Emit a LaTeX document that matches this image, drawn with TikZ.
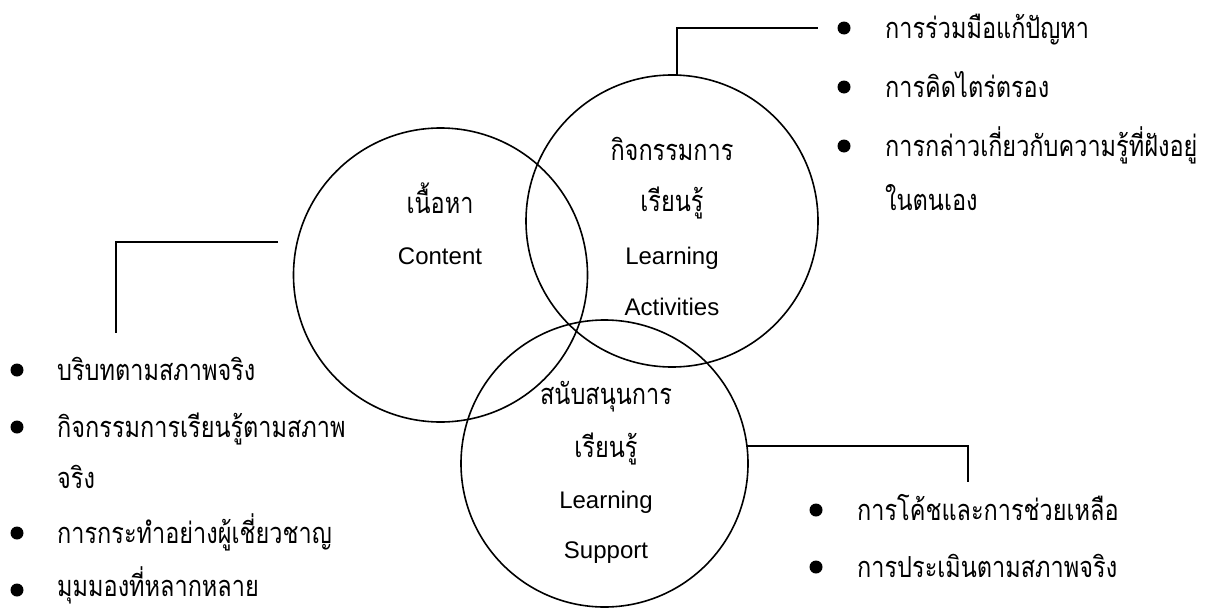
\documentclass[tikz,border=0pt]{standalone}
\usepackage{fontspec}
\newfontfamily\thaifont[Script=Thai,FakeStretch=0.81]{Loma}
\newfontfamily\latinfont{Liberation Sans}
\begin{document}
\begin{tikzpicture}[x=1pt,y=-1pt,
  ring/.style={draw,circle,line width=1.6pt,inner sep=0pt,outer sep=0pt},
  link/.style={line width=1.8pt},
  dot/.style={circle,fill,inner sep=0pt,minimum size=13pt},
  th/.style={font=\thaifont\fontsize{29}{32}\selectfont,inner sep=0pt},
  en/.style={font=\latinfont\fontsize{24}{28}\selectfont,inner sep=0pt},
  item/.style={th,anchor=base west}]
\useasboundingbox (0,0) rectangle (1205,608);

% three overlapping rings
\node[ring,minimum size=294pt] (content) at (440.5,275) {};
\node[ring,minimum size=292pt] (activity) at (672,221) {};
\node[ring,minimum size=287pt] (support) at (604.5,463.5) {};

% ring captions
\node[th,anchor=base] (c1) at (440,213) {เนื้อหา};
\node[en,anchor=base] (c2) at (440,264) {Content};

\node[th,anchor=base] (a1) at (672,160) {กิจกรรมการ};
\node[th,anchor=base] (a2) at (672,211) {เรียนรู้};
\node[en,anchor=base] (a3) at (672,264) {Learning};
\node[en,anchor=base] (a4) at (672,315) {Activities};

\node[th,anchor=base] (s1) at (606,404) {สนับสนุนการ};
\node[th,anchor=base] (s2) at (606,457) {เรียนรู้};
\node[en,anchor=base] (s3) at (606,508) {Learning};
\node[en,anchor=base] (s4) at (606,558) {Support};

% connectors
\coordinate (trEnd) at (818,28.3);
\draw[link] (activity.88.4) |- (trEnd);
\coordinate (lStart) at (278,242);
\coordinate (lEnd) at (116,333);
\draw[link] (lStart) -| (lEnd);
\coordinate (brEnd) at (968,482);
\draw[link] (support.7.8) -| (brEnd);

% list beside the activity ring
\node[dot] (tb1) at (844,28) {};
\node[dot] (tb2) at (844,87) {};
\node[dot] (tb3) at (844,146) {};
\node[item] (t1) at (885,38) {การร่วมมือแก้ปัญหา};
\node[item] (t2) at (885,97) {การคิดไตร่ตรอง};
\node[item] (t3) at (885,156) {การกล่าวเกี่ยวกับความรู้ที่ฝังอยู่};
\node[item] (t4) at (885,210) {ในตนเอง};

% list beside the content ring
\node[dot] (lb1) at (17,370) {};
\node[dot] (lb2) at (17,427) {};
\node[dot] (lb3) at (17,533) {};
\node[dot] (lb4) at (17,590) {};
\node[item] (l1) at (57,380) {บริบทตามสภาพจริง};
\node[item] (l2) at (57,437) {กิจกรรมการเรียนรู้ตามสภาพ};
\node[item] (l3) at (57,488) {จริง};
\node[item] (l4) at (57,543) {การกระทำอย่างผู้เชี่ยวชาญ};
\node[item] (l5) at (57,596) {มุมมองที่หลากหลาย};

% list beside the support ring
\node[dot] (bb1) at (816,510) {};
\node[dot] (bb2) at (816,567) {};
\node[item] (b1) at (857,520) {การโค้ชและการช่วยเหลือ};
\node[item] (b2) at (857,577) {การประเมินตามสภาพจริง};
\end{tikzpicture}
\end{document}
